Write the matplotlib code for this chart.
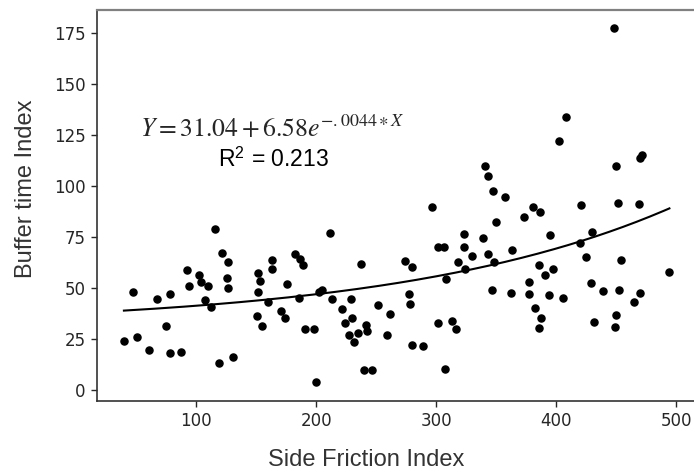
import numpy as np
import matplotlib.pyplot as plt

# Side friction index vs buffer time index
side_friction = [
    115.3, 121.4, 126.4, 92.3, 102.3, 125.6, 103.9, 93.7, 109.8, 126.1,
    47.5, 78.1, 67.5, 107.0, 112.3, 74.8, 50.8, 39.7, 60.6, 78.4,
    87.5, 119.2, 130.3,
    211.8, 182.3, 186.4, 188.7, 163.1, 163.1, 151.7, 152.8, 237.0, 175.6,
    151.7, 159.8, 185.8, 202.5, 204.8, 213.3, 228.9, 251.2, 150.8, 155.0,
    170.8, 174.2, 221.2, 230.0, 223.6, 241.4, 242.0, 235.0, 227.3, 231.4,
    190.6, 198.3, 239.8, 246.2, 200.0, 261.5, 259.0,
    340.6, 343.3, 347.0, 357.5, 373.1, 296.4, 349.8, 323.3, 339.2, 301.7,
    306.7, 323.1, 362.8, 330.0, 342.8, 318.1, 348.3, 324.2, 274.2, 279.5,
    308.1, 346.4, 362.0, 377.0, 377.5, 277.0, 278.3, 301.7, 312.8, 316.4,
    279.8, 288.9, 307.3,
    407.8, 402.5, 471.2, 470.0, 450.0, 380.8, 386.2, 420.6, 451.4, 468.9,
    395.0, 429.8, 419.8, 425.0, 453.9, 385.6, 397.0, 390.3, 494.2, 393.9,
    405.6, 429.2, 439.2, 452.0, 470.0, 464.7, 382.5, 387.0, 385.6, 450.0,
    431.4, 448.9, 447.8,
]
buffer_time = [
    78.7, 67.2, 62.5, 58.8, 56.3, 54.7, 52.9, 51.1, 51.1, 50.1,
    48.1, 47.2, 44.4, 44.2, 40.8, 31.3, 26.0, 23.8, 19.7, 18.3,
    18.4, 13.4, 16.2,
    77.0, 66.6, 64.0, 61.4, 63.7, 59.3, 57.1, 53.5, 61.9, 52.1,
    48.1, 43.1, 44.9, 47.8, 48.8, 44.6, 44.4, 41.8, 36.4, 31.5,
    38.5, 35.3, 39.5, 35.3, 32.8, 31.7, 29.1, 27.9, 26.8, 23.5,
    29.9, 29.9, 9.6, 9.6, 3.8, 37.4, 26.9,
    109.8, 104.9, 97.5, 94.5, 84.9, 89.6, 82.4, 76.5, 74.6, 70.2,
    70.2, 70.0, 68.4, 65.5, 66.8, 62.7, 62.5, 59.4, 63.2, 60.2,
    54.5, 49.1, 47.3, 47.2, 53.0, 46.9, 41.9, 32.8, 33.9, 30.0,
    22.0, 21.5, 10.4,
    133.5, 121.8, 115.1, 113.8, 109.5, 89.5, 87.0, 90.6, 91.7, 90.9,
    75.8, 77.4, 71.8, 65.1, 63.5, 61.1, 59.3, 56.5, 57.9, 46.5,
    45.1, 52.6, 48.6, 49.0, 47.3, 42.9, 40.0, 35.3, 30.4, 36.7,
    33.1, 30.7, 177.4,
]

# fitted curve Y = a + b*exp(c*X)
a, b, c = 31.04, 6.58, 0.0044

plt.rcParams["mathtext.fontset"] = "stix"

fig = plt.figure(figsize=(6.94, 4.71), dpi=100)
ax = fig.add_axes([0.1393, 0.1493, 0.8607, 0.8295])

ax.scatter(side_friction, buffer_time, s=26, color="black", zorder=3)

xs = np.linspace(min(side_friction), max(side_friction), 200)
ax.plot(xs, a + b * np.exp(c * xs), color="black", lw=1.5)

ax.text(163, 124.1, r"$Y = 31.04 + 6.58e^{-.0044\ast X}$", fontsize=18.5,
        ha="center", va="baseline", color="#262626")
ax.text(164.7, 109.4, r"R$^\mathregular{2}$ = 0.213", fontsize=16.5,
        family="Liberation Sans", ha="center", va="baseline", color="black")

ax.set_xlim(17, 514.7)
ax.set_ylim(-5.24, 186.1)
ax.set_xticks([100, 200, 300, 400, 500])
ax.set_yticks([0, 25, 50, 75, 100, 125, 150, 175])
ax.tick_params(labelsize=12, colors="#262626", length=4.5, width=1)

ax.set_xlabel("Side Friction Index", fontsize=17, family="Liberation Sans",
              color="#333333")
ax.set_ylabel("Buffer time Index", fontsize=17, family="Liberation Sans",
              color="#333333")
ax.xaxis.label.set_va("baseline")
ax.yaxis.label.set_va("baseline")
ax.xaxis.set_label_coords(0.452, -0.1664)
ax.yaxis.set_label_coords(-0.1088, 0.542)

for side in ["left", "bottom"]:
    ax.spines[side].set_color("#333333")
    ax.spines[side].set_linewidth(1.2)
ax.spines["top"].set_color("#808080")
ax.spines["top"].set_linewidth(1.6)
ax.spines["right"].set_visible(False)

fig.savefig("out.png", dpi=100)
